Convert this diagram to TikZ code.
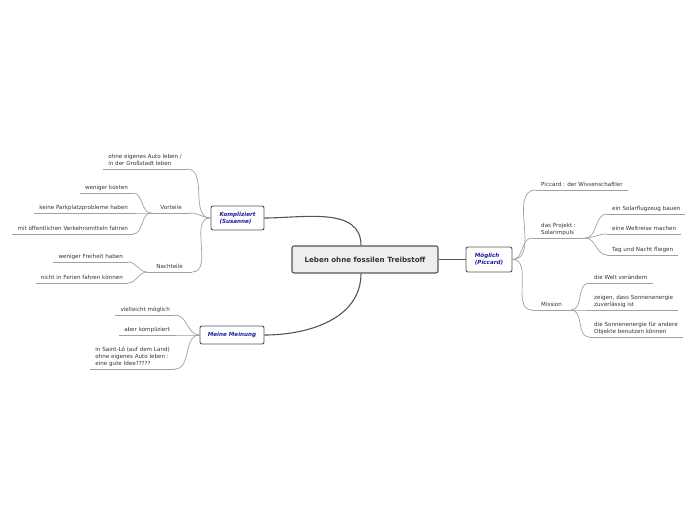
\documentclass[tikz,border=0pt]{standalone}
\usepackage{fontspec}
\setmainfont{DejaVu Sans}
\usetikzlibrary{calc}
\definecolor{twig}{HTML}{A0A0A0}
\definecolor{trunk}{HTML}{555555}
\definecolor{leaftext}{HTML}{333333}
\definecolor{topicblue}{HTML}{1C1CA0}
\definecolor{rootfill}{HTML}{EEEEEE}

\tikzset{
  root/.style={draw=trunk, fill=rootfill, line width=1.1pt, rounded corners=2pt,
    minimum width=146pt, minimum height=27pt,
    font=\fontsize{7.1}{8}\selectfont\bfseries, text=leaftext},
  topic/.style={draw=trunk, fill=white, line width=0.9pt, rounded corners=2pt,
    align=left, font=\fontsize{5.6}{6.8}\selectfont\bfseries\itshape, text=topicblue},
  leaf/.style={inner xsep=5pt, inner ysep=2.5pt, text depth=1pt, align=left,
    font=\fontsize{5.6}{7}\selectfont, text=leaftext},
  mid/.style={leaf, inner xsep=9pt},
  uline/.style={draw=twig, line width=0.7pt},
  branch/.style={draw=twig, line width=0.7pt},
  trunkline/.style={draw=trunk, line width=1.1pt},
}

\begin{document}
\begin{tikzpicture}[x=1pt, y=1pt]
  \useasboundingbox (0,0) rectangle (696,520);

  % main topics
  \node[root] (central) at (365,260.5) {Leben ohne fossilen Treibstoff};
  \node[topic, minimum width=53pt, minimum height=24pt] (komp) at (237.5,302) {Kompliziert\\(Susanne)};
  \node[topic, minimum width=64pt, minimum height=18pt] (mein) at (232,185) {Meine Meinung};
  \node[topic, minimum width=46pt, minimum height=25pt] (mog) at (489,260.5) {Möglich\\(Piccard)};

  \draw[trunkline] ([xshift=-4pt]central.north) to[out=90, in=0] (komp.east);
  \draw[trunkline] ([xshift=-4pt]central.south) to[out=-90, in=0] (mein.east);
  \draw[trunkline, line width=0.8pt] (central.east) -- (mog.west);

  % middle level
  \node[mid, anchor=south east] (vort) at (191,307) {Vorteile};
  \node[mid, anchor=south east] (nach) at (192,248) {Nachteile};
  \node[mid, anchor=south west] (proj) at (532,282) {das Projekt :\\Solarimpuls};
  \node[mid, anchor=south west] (miss) at (532,210) {Mission};
  \foreach \nm in {vort, nach, proj, miss}
    \draw[uline] (\nm.south west) -- (\nm.south east);

  % leaves, left side
  \foreach \nm/\x/\y/\txt in {
      ohne/187/351/{ohne eigenes Auto leben /\\in der Großstadt leben},
      wk/133/327/{weniger kosten},
      kp/133/307/{keine Parkplatzprobleme haben},
      oev/133/286/{mit öffentlichen Verkehrsmitteln fahren},
      wf/128/258/{weniger Freiheit haben},
      nf/128/237/{nicht in Ferien fahren können},
      vm/175/205/{vielleicht möglich},
      ak/175/185/{aber kompliziert},
      sl/175/151/{in Saint-Lô (auf dem Land)\\ohne eigenes Auto leben :\\eine gute Idee?????}} {
    \node[leaf, anchor=south east] (\nm) at (\x,\y) {\txt};
    \draw[uline] (\nm.south west) -- (\nm.south east);
  }

  % leaves, right side
  \foreach \nm/\x/\y/\txt in {
      pic/536/330/{Piccard : der Wissenschaftler},
      sf/607/306/{ein Solarflugzeug bauen},
      wr/607/286/{eine Weltreise machen},
      tn/607/265/{Tag und Nacht fliegen},
      wv/589/237/{die Welt verändern},
      zs/589/210/{zeigen, dass Sonnenenergie\\zuverlässig ist},
      so/589/183/{die Sonnenenergie für andere\\Objekte benutzen können}} {
    \node[leaf, anchor=south west] (\nm) at (\x,\y) {\txt};
    \draw[uline] (\nm.south west) -- (\nm.south east);
  }

  % branches
  \foreach \a/\b in {komp.west/ohne, komp.west/vort, komp.west/nach,
      vort.south west/wk, vort.south west/kp, vort.south west/oev,
      nach.south west/wf, nach.south west/nf,
      mein.west/vm, mein.west/ak, mein.west/sl}
    \draw[branch] (\a) to[out=180, in=0] (\b.south east);
  \foreach \a/\b in {mog.east/pic, mog.east/proj, mog.east/miss,
      proj.south east/sf, proj.south east/wr, proj.south east/tn,
      miss.south east/wv, miss.south east/zs, miss.south east/so}
    \draw[branch] (\a) to[out=0, in=180] (\b.south west);
\end{tikzpicture}
\end{document}
